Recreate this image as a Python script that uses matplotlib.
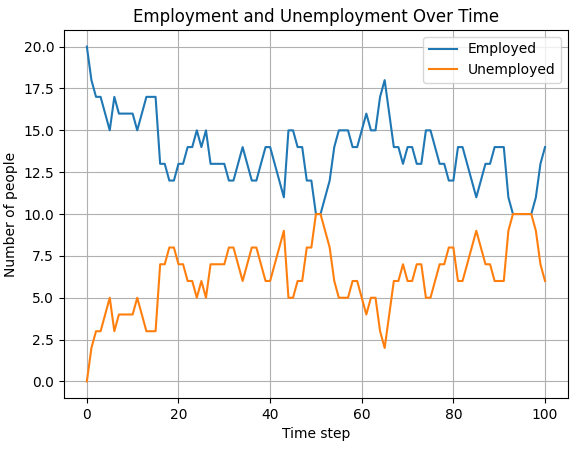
import matplotlib
matplotlib.use('Agg')
from matplotlib import pyplot as plt

# Employment counts per time step
employed = [20, 18, 17, 17, 16, 15, 17, 16, 16, 16, 16, 15, 16, 17, 17, 17, 13, 13, 12, 12,
            13, 13, 14, 14, 15, 14, 15, 13, 13, 13, 13, 12, 12, 13, 14, 13, 12, 12, 13, 14,
            14, 13, 12, 11, 15, 15, 14, 14, 12, 12, 10, 10, 11, 12, 14, 15, 15, 15, 14, 14,
            15, 16, 15, 15, 17, 18, 16, 14, 14, 13, 14, 14, 13, 13, 15, 15, 14, 13, 13, 12,
            12, 14, 14, 13, 12, 11, 12, 13, 13, 14, 14, 14, 11, 10, 10, 10, 10, 10, 11, 13,
            14]
unemployed = [0, 2, 3, 3, 4, 5, 3, 4, 4, 4, 4, 5, 4, 3, 3, 3, 7, 7, 8, 8,
              7, 7, 6, 6, 5, 6, 5, 7, 7, 7, 7, 8, 8, 7, 6, 7, 8, 8, 7, 6,
              6, 7, 8, 9, 5, 5, 6, 6, 8, 8, 10, 10, 9, 8, 6, 5, 5, 5, 6, 6,
              5, 4, 5, 5, 3, 2, 4, 6, 6, 7, 6, 6, 7, 7, 5, 5, 6, 7, 7, 8,
              8, 6, 6, 7, 8, 9, 8, 7, 7, 6, 6, 6, 9, 10, 10, 10, 10, 10, 9, 7,
              6]
steps = list(range(len(employed)))

fig, ax = plt.subplots(figsize=(5.76, 4.53), dpi=100)
fig.subplots_adjust(left=0.111, right=0.986, top=0.934, bottom=0.121)
ax.plot(steps, employed, label='Employed')
ax.plot(steps, unemployed, label='Unemployed')
ax.set_title('Employment and Unemployment Over Time')
ax.set_xlabel('Time step')
ax.set_ylabel('Number of people')
ax.grid(True)
ax.legend()
fig.savefig('out.png')
